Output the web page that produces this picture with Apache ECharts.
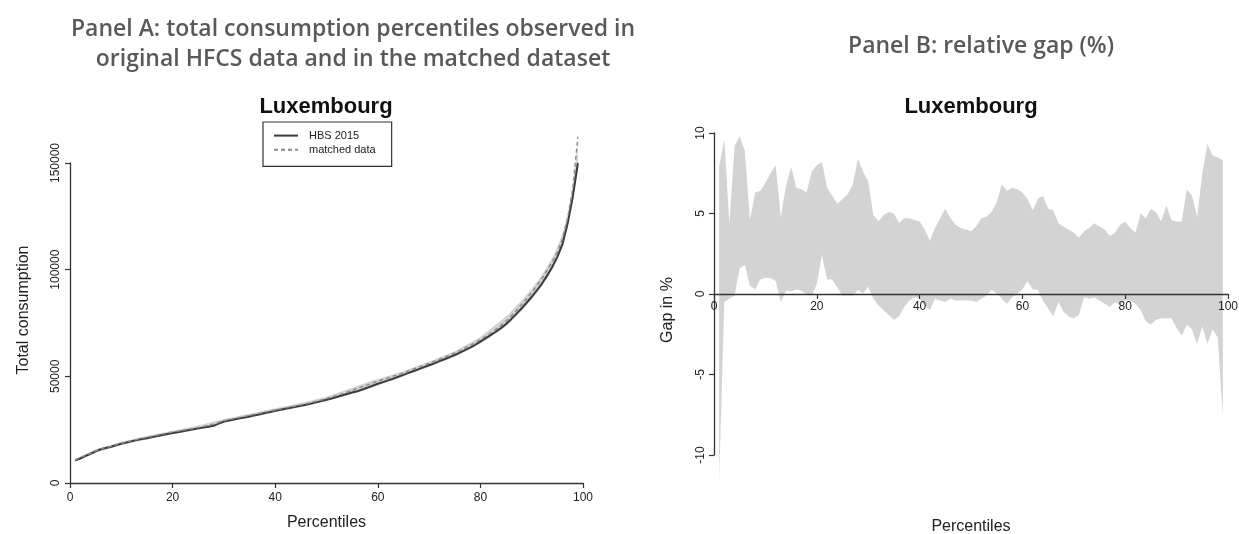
<!DOCTYPE html>
<html>
<head>
<meta charset="utf-8">
<script src="https://cdn.jsdelivr.net/npm/echarts@6/dist/echarts.min.js"></script>
<style>
  html, body { margin: 0; padding: 0; background: #ffffff; }
  #chart { width: 1239px; height: 534px; }
</style>
</head>
<body>
<div id="chart"></div>
<script>
// Percentile grid shared by both panels
const percentiles = Array.from({ length: 99 }, (_, i) => i + 1);

// Panel A: total consumption by percentile (thousands of euro)
const hbs2015 = [
  10.6, 11.5, 12.6, 13.7, 14.8, 15.8, 16.4, 17.0, 17.7, 18.4,
  19.0, 19.6, 20.1, 20.6, 21.0, 21.5, 22.0, 22.5, 23.0, 23.4,
  23.8, 24.3, 24.7, 25.2, 25.6, 26.0, 26.4, 26.8, 27.8, 28.8,
  29.3, 29.8, 30.3, 30.7, 31.2, 31.7, 32.2, 32.8, 33.3, 33.8,
  34.3, 34.8, 35.3, 35.7, 36.2, 36.7, 37.2, 37.8, 38.4, 39.0,
  39.6, 40.3, 41.0, 41.7, 42.4, 43.0, 43.8, 44.7, 45.6, 46.5,
  47.3, 48.1, 48.9, 49.8, 50.7, 51.6, 52.5, 53.4, 54.3, 55.2,
  56.1, 57.1, 58.0, 59.0, 60.0, 61.1, 62.3, 63.5, 64.8, 66.3,
  67.8, 69.3, 70.9, 72.6, 74.5, 76.8, 79.3, 81.8, 84.5, 87.3,
  90.3, 93.5, 97.2, 101.3, 106.0, 112.0, 121.6, 134.0, 150.0
];
const matchedData = [
  10.8, 11.8, 12.9, 13.9, 15.0, 15.9, 16.6, 17.2, 17.9, 18.6,
  19.2, 19.8, 20.4, 20.9, 21.4, 21.9, 22.4, 22.9, 23.4, 23.9,
  24.3, 24.7, 25.1, 25.5, 26.0, 26.5, 27.0, 27.6, 28.4, 29.2,
  29.7, 30.2, 30.7, 31.2, 31.7, 32.2, 32.7, 33.2, 33.7, 34.2,
  34.7, 35.2, 35.6, 36.1, 36.6, 37.1, 37.7, 38.3, 38.9, 39.6,
  40.3, 41.0, 41.8, 42.6, 43.5, 44.3, 45.2, 46.0, 46.9, 47.7,
  48.5, 49.3, 50.1, 50.9, 51.7, 52.6, 53.5, 54.4, 55.3, 56.2,
  57.1, 58.0, 59.0, 60.0, 61.0, 62.1, 63.3, 64.5, 65.8, 67.2,
  68.7, 70.3, 72.0, 73.8, 75.9, 78.3, 80.9, 83.6, 86.4, 89.4,
  92.5, 95.9, 99.6, 103.7, 108.4, 114.5, 124.0, 138.0, 162.3
];
// Panel A: range of the matched percentiles (thousands of euro)
const rangePct = [1, 5, 10, 15, 20, 25, 30, 35, 40, 45, 50, 55, 58, 60, 62, 65, 70, 75, 80, 85, 88, 90, 92, 94, 95, 96, 97, 98, 99];
const rangeLow = [10.0, 14.2, 17.8, 20.4, 22.8, 25.0, 28.2, 30.6, 33.2, 35.6, 38.4, 41.8, 43.9, 45.7, 47.4, 50.0, 54.4, 59.2, 65.4, 73.4, 80.6, 86.0, 92.2, 99.8, 104.5, 110.5, 119.5, 131.5, 147.0];
const rangeHigh = [11.4, 15.8, 19.3, 22.0, 24.5, 26.9, 30.0, 32.5, 35.0, 37.5, 40.4, 44.6, 47.2, 48.8, 50.2, 52.4, 56.8, 61.8, 68.4, 78.0, 85.6, 91.0, 97.5, 105.5, 110.5, 117.0, 126.0, 139.0, 160.0];

// Panel B: relative gap in %, upper and lower bound per percentile
const gapUpper = [
  7.9, 9.6, 4.4, 9.2, 9.8, 8.9, 4.6, 6.3, 6.4, 6.9,
  7.5, 8.0, 4.8, 6.7, 7.9, 6.6, 6.5, 6.3, 7.6, 8.0,
  8.2, 6.6, 6.1, 5.6, 5.9, 6.2, 6.8, 8.4, 7.6, 7.0,
  4.9, 4.5, 4.9, 5.1, 5.0, 4.4, 4.7, 4.7, 4.6, 4.5,
  4.0, 3.3, 4.1, 4.7, 5.3, 4.7, 4.3, 4.1, 4.0, 3.9,
  4.2, 4.7, 4.8, 5.1, 5.7, 6.8, 6.4, 6.6, 6.5, 6.3,
  5.9, 5.2, 5.9, 6.1, 5.3, 5.2, 4.4, 4.2, 4.0, 3.8,
  3.5, 3.9, 4.1, 4.4, 4.2, 4.0, 3.6, 3.8, 4.3, 4.5,
  4.1, 3.8, 5.0, 4.7, 5.3, 5.1, 4.5, 5.5, 4.6, 4.5,
  4.5, 6.5, 6.1, 4.8, 7.5, 9.3, 8.6, 8.5, 8.3
];
const gapLower = [
  -11.6, -0.5, -0.3, -0.1, 1.6, 1.8, 0.5, 0.3, 0.9, 1.0,
  1.0, 0.8, -0.5, 0.2, 0.15, 0.3, 0.2, 0.0, -0.1, 0.6,
  2.4, 0.9, 0.9, 0.4, -0.1, -0.1, -0.1, 0.25, 0.05, 0.45,
  -0.3, -0.7, -1.0, -1.3, -1.6, -1.4, -0.8, -0.4, -0.2, -0.3,
  -0.7, -1.0, -0.3, -0.4, -0.5, -0.3, -0.4, -0.4, -0.4, -0.4,
  -0.5, -0.3, -0.1, 0.25, 0.05, -0.3, -0.6, -0.2, 0.0, 0.3,
  0.8, 0.3, 0.25, -0.4, -0.9, -1.4, -0.5, -1.1, -1.4, -1.5,
  -1.3, -0.2, -0.3, -0.2, -0.4, -0.6, -0.8, -0.5, -0.7, -0.4,
  -0.4, -0.6, -1.0, -1.7, -1.9, -1.6, -1.5, -1.5, -1.5, -2.1,
  -2.6, -1.9, -2.2, -3.1, -2.0, -3.1, -2.2, -2.7, -7.6
];

const AXIS_FONT = 'Liberation Sans, Arial, Helvetica, sans-serif';
const HEAD_FONT = 'Open Sans, Lato, sans-serif';
const INK = '#222222';
const BAND = '#d3d3d3';

// Closed polygon between two boundary lines, projected through the axes
function bandRenderer(xs, lows, highs) {
  return function (params, api) {
    const pts = [];
    for (let i = 0; i < xs.length; i++) pts.push(api.coord([xs[i], highs[i]]));
    for (let i = xs.length - 1; i >= 0; i--) pts.push(api.coord([xs[i], lows[i]]));
    return { type: 'polygon', shape: { points: pts }, style: { fill: BAND }, silent: true };
  };
}

const plainNumber = v => String(v);

function baseXAxis(gridIndex, extra) {
  return Object.assign({
    type: 'value', gridIndex, min: 0, max: 100, interval: 20,
    axisLine: { show: true, lineStyle: { color: '#333', width: 1.3 } },
    axisTick: { show: true, length: 5, lineStyle: { color: '#333', width: 1.2 } },
    axisLabel: { fontFamily: AXIS_FONT, fontSize: 12, color: INK, margin: 9, formatter: plainNumber },
    splitLine: { show: false },
    name: 'Percentiles', nameLocation: 'middle',
    nameTextStyle: { fontFamily: AXIS_FONT, fontSize: 16, color: INK }
  }, extra);
}

function baseYAxis(gridIndex, extra) {
  return Object.assign({
    type: 'value', gridIndex,
    axisLine: { show: true, lineStyle: { color: '#333', width: 1.3 } },
    axisTick: { show: true, length: 5, lineStyle: { color: '#333', width: 1.2 } },
    axisLabel: { fontFamily: AXIS_FONT, fontSize: 12, color: INK, rotate: 90, margin: 8, formatter: plainNumber },
    splitLine: { show: false },
    nameLocation: 'middle',
    nameTextStyle: { fontFamily: AXIS_FONT, fontSize: 16, color: INK }
  }, extra);
}

const chart = echarts.init(document.getElementById('chart'), null, { renderer: 'canvas' });

chart.setOption({
  animation: false,
  backgroundColor: '#ffffff',
  title: [
    {
      text: 'Panel A: total consumption percentiles observed in\noriginal HFCS data and in the matched dataset',
      left: 348, top: 9, textAlign: 'center',
      textStyle: { fontFamily: HEAD_FONT, fontWeight: 600, fontSize: 23, color: '#595959', lineHeight: 30, align: 'center' }
    },
    {
      text: 'Panel B: relative gap (%)',
      left: 976, top: 30, textAlign: 'center',
      textStyle: { fontFamily: HEAD_FONT, fontWeight: 600, fontSize: 23, color: '#595959' }
    },
    {
      text: 'Luxembourg', left: 321, top: 91, textAlign: 'center',
      textStyle: { fontFamily: AXIS_FONT, fontWeight: 'bold', fontSize: 22, color: '#111' }
    },
    {
      text: 'Luxembourg', left: 966, top: 91, textAlign: 'center',
      textStyle: { fontFamily: AXIS_FONT, fontWeight: 'bold', fontSize: 22, color: '#111' }
    }
  ],
  legend: {
    data: ['HBS 2015', 'matched data'],
    orient: 'vertical',
    left: 263, top: 122,
    itemWidth: 24, itemHeight: 14, itemGap: 3,
    padding: [8, 16, 11, 10],
    borderColor: '#333', borderWidth: 1.2, borderRadius: 0,
    itemStyle: { color: 'rgba(0,0,0,0)', borderWidth: 0, opacity: 0 },
    textStyle: { fontFamily: AXIS_FONT, fontSize: 11, color: INK, padding: [0, 0, 0, 6] }
  },
  grid: [
    { left: 70, top: 163, width: 513, height: 320, containLabel: false, outerBoundsMode: 'none' },
    { left: 714, top: 133, width: 514, height: 322, containLabel: false, outerBoundsMode: 'none' }
  ],
  xAxis: [
    baseXAxis(0, { nameGap: 32 }),
    // the percentile axis of the gap panel runs along the zero line (half the grid height up)
    baseXAxis(1, {
      z: 5, position: 'bottom', offset: -161, nameGap: 225,
      axisLine: { show: true, onZero: false, lineStyle: { color: '#333', width: 1.3 } },
      axisLabel: { fontFamily: AXIS_FONT, fontSize: 12, color: INK, margin: 7, formatter: plainNumber }
    })
  ],
  yAxis: [
    baseYAxis(0, {
      min: 0, max: 150000, interval: 50000,
      name: 'Total consumption', nameGap: 38,
      nameTextStyle: { fontFamily: AXIS_FONT, fontSize: 16, color: INK, padding: [0, 0, 0, 26] }
    }),
    baseYAxis(1, {
      min: -10, max: 10, interval: 5, z: 5,
      name: 'Gap in %', nameGap: 38,
      axisLabel: { fontFamily: AXIS_FONT, fontSize: 12, color: INK, rotate: 90, margin: 7, formatter: plainNumber },
      nameTextStyle: { fontFamily: AXIS_FONT, fontSize: 16, color: INK, padding: [0, 32, 0, 0] }
    })
  ],
  series: [
    {
      type: 'custom', name: 'range', xAxisIndex: 0, yAxisIndex: 0, clip: false, z: 1,
      data: [[rangePct[0], rangeLow[0] * 1000]],
      renderItem: bandRenderer(rangePct, rangeLow.map(v => v * 1000), rangeHigh.map(v => v * 1000))
    },
    {
      type: 'line', name: 'matched data', xAxisIndex: 0, yAxisIndex: 0, clip: false, z: 3,
      symbol: 'none', showSymbol: false,
      lineStyle: { color: '#8a8a8a', width: 1.4, type: [4, 3] },
      itemStyle: { color: '#8a8a8a' },
      data: percentiles.map((p, i) => [p, matchedData[i] * 1000])
    },
    {
      type: 'line', name: 'HBS 2015', xAxisIndex: 0, yAxisIndex: 0, clip: false, z: 2,
      symbol: 'none', showSymbol: false,
      lineStyle: { color: '#3c3c3c', width: 2 },
      itemStyle: { color: '#3c3c3c' },
      data: percentiles.map((p, i) => [p, hbs2015[i] * 1000])
    },
    {
      type: 'custom', name: 'gap', xAxisIndex: 1, yAxisIndex: 1, clip: false, z: 1,
      data: [[percentiles[0], gapLower[0]]],
      renderItem: bandRenderer(percentiles, gapLower, gapUpper)
    }
  ]
});
</script>
</body>
</html>
